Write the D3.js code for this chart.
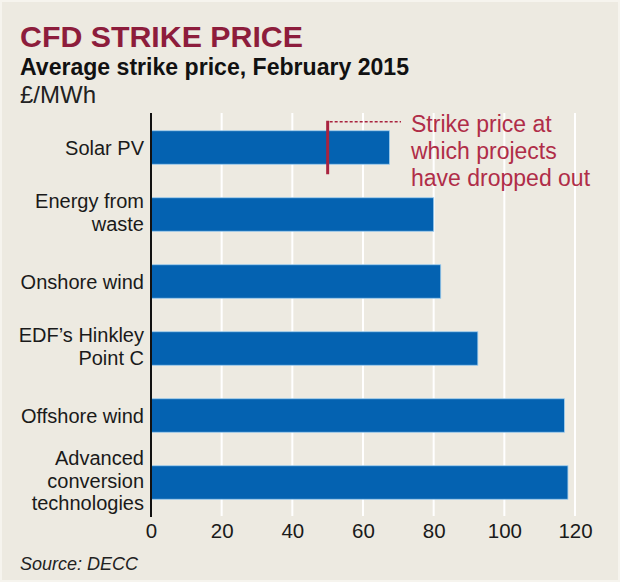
<!DOCTYPE html>
<html lang="en">
<head>
  <meta charset="UTF-8">
  <title>CFD strike price</title>
  <script src="https://d3js.org/d3.v7.min.js"></script>
  <style>
    body {
      margin: 0;
      overflow: hidden;
      background: #edeae1;
    }
    svg {
      display: block;
      font-family: "Liberation Sans", Arial, sans-serif;
    }
  </style>
</head>
<body>
  <svg id="chart" width="620" height="582"></svg>

  <script>
    // data
    const categories = [
      ["Solar PV"],
      ["Energy from", "waste"],
      ["Onshore wind"],
      ["EDF\u2019s Hinkley", "Point C"],
      ["Offshore wind"],
      ["Advanced", "conversion", "technologies"]
    ];
    const values = [67.5, 80, 82, 92.5, 117, 118];
    const dropoutPrice = 50;   // solar PV marker
    const xTicks = [0, 20, 40, 60, 80, 100, 120];
    const noteLines = ["Strike price at", "which projects", "have dropped out"];

    const svg = d3.select("#chart");
    const W = 620, H = 582;

    svg.append("rect")
      .attr("width", W).attr("height", H)
      .attr("fill", "#edeae1")
      .attr("stroke", "#f6f4ee")
      .attr("stroke-width", 4);

    // scales
    const x = d3.scaleLinear().domain([0, 120]).range([151, 575]);
    const y = d3.scaleBand()
      .domain(d3.range(categories.length))
      .range([114, 516])
      .paddingInner(0.5)
      .paddingOuter(0.25);

    // titles
    svg.append("text")
      .attr("x", 20).attr("y", 47)
      .attr("font-size", 30).attr("font-weight", "bold")
      .attr("fill", "#8d1d3c")
      .attr("textLength", 283).attr("lengthAdjust", "spacingAndGlyphs")
      .text("CFD STRIKE PRICE");

    svg.append("text")
      .attr("x", 20).attr("y", 75)
      .attr("font-size", 23).attr("font-weight", "bold")
      .attr("fill", "#111")
      .attr("textLength", 389).attr("lengthAdjust", "spacingAndGlyphs")
      .text("Average strike price, February 2015");

    svg.append("text")
      .attr("x", 20).attr("y", 103)
      .attr("font-size", 24)
      .attr("fill", "#222")
      .text("£/MWh");

    // gridlines
    svg.append("g")
      .selectAll("line")
      .data(xTicks.filter(d => d > 0))
      .join("line")
      .attr("x1", d => x(d)).attr("x2", d => x(d))
      .attr("y1", 113).attr("y2", 516)
      .attr("stroke", "#ffffff")
      .attr("stroke-width", 2);

    // bars
    svg.append("g")
      .selectAll("rect")
      .data(values)
      .join("rect")
      .attr("x", x(0))
      .attr("y", (d, i) => y(i))
      .attr("width", d => x(d) - x(0))
      .attr("height", y.bandwidth())
      .attr("fill", "#0462b1")
      .attr("stroke", "#9fcdee")
      .attr("stroke-width", 0.8);

    // category labels
    const lineH = 22.5;
    svg.append("g")
      .selectAll("text")
      .data(categories)
      .join("text")
      .attr("text-anchor", "end")
      .attr("font-size", 20)
      .attr("fill", "#1a1a1a")
      .each(function (lines, i) {
        const cy = y(i) + y.bandwidth() / 2;
        const n = lines.length;
        d3.select(this).selectAll("tspan")
          .data(lines)
          .join("tspan")
          .attr("x", 144)
          .attr("y", (l, k) => cy + (n > 1 ? 5 : 7) + (k - (n - 1) / 2) * lineH)
          .text(l => l);
      });

    // axis line
    svg.append("line")
      .attr("x1", x(0)).attr("x2", x(0))
      .attr("y1", 113).attr("y2", 517)
      .attr("stroke", "#111")
      .attr("stroke-width", 2);

    // x tick labels
    const xAxis = d3.axisBottom(x).tickValues(xTicks).tickSize(0).tickPadding(0);
    const gx = svg.append("g")
      .attr("transform", "translate(0,522)")
      .call(xAxis);
    gx.select(".domain").remove();
    gx.selectAll("text")
      .attr("font-size", 20.5)
      .attr("font-family", "Liberation Sans, Arial, sans-serif")
      .attr("fill", "#1a1a1a")
      .attr("dy", "0.8em");

    // dropout marker + annotation
    const solarY = y(0);
    svg.append("line")
      .attr("x1", x(dropoutPrice)).attr("x2", x(dropoutPrice))
      .attr("y1", solarY - 10).attr("y2", solarY + y.bandwidth() + 10)
      .attr("stroke", "#a9233f")
      .attr("stroke-width", 3);

    svg.append("line")
      .attr("x1", x(dropoutPrice) + 2).attr("x2", 401)
      .attr("y1", solarY - 9).attr("y2", solarY - 9)
      .attr("stroke", "#a9233f")
      .attr("stroke-width", 1.5)
      .attr("stroke-dasharray", "3,2");

    svg.append("text")
      .attr("font-size", 23)
      .attr("fill", "#b02d48")
      .selectAll("tspan")
      .data(noteLines)
      .join("tspan")
      .attr("x", 411)
      .attr("y", (d, i) => 132 + i * 27)
      .text(d => d);

    // source
    svg.append("text")
      .attr("x", 20).attr("y", 570)
      .attr("font-size", 18)
      .attr("font-style", "italic")
      .attr("fill", "#222")
      .text("Source: DECC");
  </script>
</body>
</html>
